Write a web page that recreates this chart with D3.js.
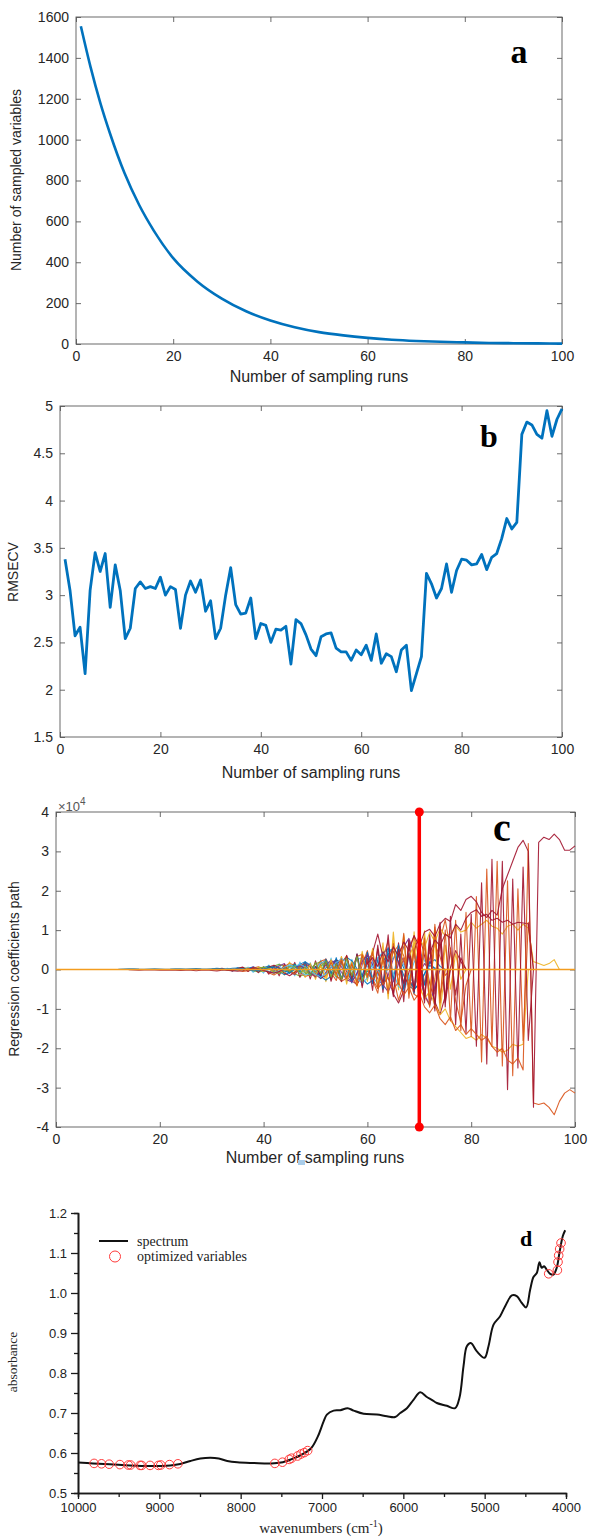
<!DOCTYPE html>
<html>
<head>
<meta charset="utf-8">
<script src="https://d3js.org/d3.v7.min.js"></script>
<style>
  body { margin: 0; background: #fff; }
  svg { display: block; }
</style>
</head>
<body>
<script>
var W = 590, H = 1538;
var sans = "'Liberation Sans', Arial, Helvetica, sans-serif";
var serif = "'Liberation Serif', 'Times New Roman', serif";

// ---------- data ----------
// (a) number of sampled variables, read at selected runs
var runsA = [1, 3, 5, 7, 10, 13, 16, 20, 25, 30, 35, 40, 45, 50, 55, 60, 65, 70, 75, 80, 85, 90, 95, 100];
var sampledVars = [1555, 1355, 1180, 1030, 835, 680, 555, 420, 305, 222, 160, 115, 82, 58, 42, 30, 21, 15, 11, 8, 5, 4, 3, 2];

// (b) RMSECV for runs 1..100
var rmsecv = [3.38, 3.05, 2.57, 2.66, 2.17, 3.05, 3.45, 3.25, 3.44, 2.87,
  3.32, 3.05, 2.54, 2.65, 3.07, 3.14, 3.07, 3.09, 3.07, 3.19,
  3.00, 3.09, 3.06, 2.65, 3.00, 3.15, 3.03, 3.16, 2.83, 2.94,
  2.54, 2.65, 3.00, 3.29, 2.90, 2.80, 2.81, 2.97, 2.54, 2.70,
  2.68, 2.50, 2.64, 2.63, 2.67, 2.27, 2.74, 2.70, 2.58, 2.43,
  2.36, 2.56, 2.59, 2.60, 2.44, 2.40, 2.40, 2.31, 2.42, 2.37,
  2.47, 2.31, 2.59, 2.28, 2.38, 2.35, 2.19, 2.42, 2.47, 1.99,
  2.17, 2.35, 3.23, 3.12, 2.97, 3.07, 3.33, 3.03, 3.26, 3.38,
  3.37, 3.32, 3.33, 3.43, 3.27, 3.40, 3.44, 3.60, 3.81, 3.70,
  3.77, 4.70, 4.83, 4.80, 4.70, 4.66, 4.95, 4.68, 4.86, 4.97];

// (c) regression coefficient paths, in thousands; path i starts at run coefStart[i]
var coefStart = [30, 32, 35, 33, 30, 34, 36, 38, 40, 42, 38, 40, 12, 14,
  44, 46, 48, 45, 50, 52, 44,
  70, 68, 66, 66, 72, 60, 60];
var coefValues = [
  [0.1,0.2,0.1,-0.1,-0.3,-0.2,0.2,0.4,0.6,0.3,-0.2,-0.6,-0.9,-0.4,0.3,0.9,1.2,0.6,-0.3,-1.1,
   -1.6,-0.9,0.4,1.5,2.2,1.4,0.2,-1.3,-2.6,-1.8,-0.5,1.3,2.9,4.2,5.3,4.6,2.1,-1.5,-4.2,-5.1,
   -3.5,-1.0,1.8,2.5,0.8,0],
  [-0.2,0.3,-0.4,0.5,-0.3,0.6,-0.7,0.4,-0.9,1.1,-0.6,1.4,-1.2,0.8,-1.6,1.9,-1.0,1.7,
   -2.1,2.4,-1.3,2.9,-2.2,1.8,-3.0,2.6,-1.7,3.2,-2.5,2.0,-1.5,0.8,0],
  [0.3,0.5,0.2,-0.3,-0.6,-0.4,0.2,0.9,1.3,0.8,-0.2,-1.1,-1.7,-1.2,0.1,
   1.4,2.0,1.1,-0.5,-1.8,-2.3,-1.0,0.6,0],
  [0.1,-0.3,0.2,0.5,-0.4,0.7,-0.2,0.6,-1.0,-0.3,0.9,1.5,-0.7,-1.3,0.4,1.8,0.9,
   -1.2,-2.3,-0.8,1.6,2.5,0.7,-1.9,-3.1,-0.9,2.3,3.6,1.2,-2.4,-4.0,-1.5,2.8,4.9,2.0,-2.6,-4.4,
   -1.0,1.5,0],
  [-0.2,0.1,0.3,-0.2,-0.4,0.3,0.6,-0.5,0.4,-0.8,0.7,-1.2,0.9,-1.6,1.3,-0.9,1.8,-2.0,1.5,-2.4,
   2.2,-1.8,2.7,-3.0,1.9,-2.6,3.4,-2.9,3.8,-4.1,4.5,-3.2,5.2,-5.8,4.0,-6.5,6.8,-5.0,7.5,-6.0,
   8.2,-7.3,9.0,-6.2,7.0,-8.0,5.5,-6.5,3.0,0],
  [0.2,-0.1,-0.5,-0.3,0.4,0.7,0.2,-0.8,-1.4,-0.6,0.7,1.6,1.0,-0.5,-1.8,-1.3,
   0.4,2.1,2.6,0.9,-1.5,-3.0,-2.2,0.5,3.3,3.9,1.6,-2.5,-4.8,-3.2,0.7,4.4,6.1,3.5,-1.8,-6.3,
   -7.2,-3.0,2.8,6.4,3.2,-1.5,0],
  [-0.3,0.4,-0.2,0.6,-0.5,0.8,-1.1,0.6,-1.4,1.9,-0.8,1.2,-2.0,1.6,
   -2.5,1.4,-3.1,2.3,-1.6,3.3,-3.7,2.0,-4.2,4.6,-3.0,5.4,-4.6,6.8,-7.5,9.5,-5.2,8.8,-6.1,9.6,
   -6.6,8.4,-7.8,10.2,-9.0,6.2,-5.0,4.0,-2.5,0],
  [0.3,-0.4,0.5,0.9,0.3,-0.6,-1.3,-0.8,0.4,1.3,2.0,1.1,
   -0.4,-1.8,-2.7,-1.7,0.3,2.0,3.1,2.2,0.2,-2.3,-3.7,-2.8,-0.6,2.1,3.9,5.6,3.3,0.4,-2.8,-4.9,
   -3.8,-1.2,1.0,0.4,0],
  [-0.3,0.6,1.1,0.4,-0.9,-1.6,-0.7,0.8,1.5,0.6,-1.0,-2.2,-1.5,0.6,2.4,1.9,-0.5,-2.9,-3.8,-1.5,
   1.6,4.3,9.0,3.2,-2.2,-6.2,-8.5,-5.4,-0.8,4.7,8.8,3.5,-3.5,-8.2,-11.4,-6.8,0.5,4.8,2.0,0],
  [0.4,-0.7,1.0,-0.4,-1.2,0.9,1.6,-1.0,-1.9,1.4,2.4,-0.8,-2.8,1.6,3.5,-1.7,-4.1,1.2,
   4.8,-2.6,-6.0,3.1,7.2,-1.9,-7.8,-3.5,5.3,8.6,2.3,-6.6,-9.2,-2.4,7.5,12.6,5.0,-8.0,-13.4,-4.0,0],
  [-0.2,0.3,0.6,0.2,-0.5,-1.0,-0.4,0.7,1.3,0.5,-0.8,-1.5,-0.6,0.9,1.8,1.0,-0.3,0],
  [0.2,-0.5,-0.9,-0.3,0.6,1.2,0.8,-0.4,-1.4,-1.1,0.3,1.6,2.2,1.0,-0.8,-2.1,-1.3,0.7,2.6,2.9,
   0.8,-1.9,-3.6,-2.4,0.5,3.1,3.8,1.2,-2.0,-3.4,-1.5,0],
  [0.05,0.1,0.15,0.2,0.1,0.05,0.1,0.15,0.1,0.05,0.1,0.2,0.15,0.1,0.2,0.25,0.15,0.1,0.2,0.3,
   0.2,0.1,0.3,0.4,0.2,0.0,-0.3,-0.2,0.1,0.5,0.7,0.3,-0.4,-0.8,0],
  [-0.05,-0.1,-0.15,-0.1,-0.05,-0.1,-0.2,-0.15,-0.1,-0.2,-0.25,-0.15,-0.2,-0.3,-0.2,-0.1,
   -0.25,-0.35,-0.2,-0.1,-0.3,-0.45,-0.3,0.1,0.4,0.2,-0.3,-0.6,-0.9,-0.5,0.2,0],
  [0.5,-0.9,1.4,-0.6,1.9,-1.5,0.8,-2.2,2.6,-1.2,3.0,-2.4,1.5,-3.4,3.9,-2.0,4.4,-3.6,2.6,-5.0,
   5.6,-3.0,6.3,-5.2,4.2,-6.0,3.5,-4.0,2.0,0],
  [0.4,1.0,0.3,-0.9,-1.7,-0.6,1.1,2.3,1.4,-0.7,-2.6,-3.2,-1.0,1.9,3.7,2.4,-0.8,-3.9,-5.6,-3.0,
   1.5,5.8,7.9,4.1,-1.6,-6.4,-8.8,-4.2,0],
  [-0.6,1.2,-1.5,0.9,-2.1,2.5,-1.4,3.2,-2.8,1.9,-3.6,4.1,-2.2,5.0,-4.4,3.1,-6.2,7.5,-4.5,8.3,
   -5.8,6.9,-8.6,9.8,-7.0,8.0,-10.5,0],
  [0.3,0.8,1.3,0.7,-0.4,-1.2,-2.0,-1.1,0.5,1.7,2.8,1.9,-0.3,-2.4,-3.5,-2.1,0.6,3.0,4.4,2.5,
   -0.9,-4.3,-5.4,-2.0,1.8,4.6,2.2,0],
  [0.8,-1.5,2.0,-2.6,1.4,-3.1,3.6,-2.2,4.0,-4.6,2.9,-5.3,6.2,-4.0,8.8,-6.9,5.1,-8.2,7.4,-5.6,
   9.1,-7.7,6.3,-9.8,11.0,-8.4,0],
  [-0.9,1.8,-1.2,2.7,-2.3,1.5,-3.4,3.8,-2.0,4.5,-4.9,3.2,-6.1,6.6,-3.8,9.2,-7.3,5.5,-8.9,7.0,
   -9.6,10.8,-6.5,0],
  [0.4,-0.6,0.9,-1.1,0.7,-1.5,1.8,-1.0,2.2,-1.9,1.4,-2.6,2.9,-1.6,3.3,-3.0,0],
  [-4.0,-7.5,-5.5,-9.0,-11.5,-10.0,-13.0,-14.5,-16.0,-17.5,
   -17.0,-18.0,-16.5,-17.5,-19.5,-20.0,-21.0,-20.5,-19.0,-19.5,-19.0,0],
  [3.0,6.5,8.0,5.5,9.5,7.0,10.5,8.5,9.0,11.0,9.5,10.0,
   12.0,10.5,11.5,12.5,11.0,10.5,9.0,11.0,11.5,10.0,11.5,10.5,2.0,1.5,1.0,1.5,2.5,0],
  [-1.5,3.0,-4.5,5.0,-6.5,8.0,-9.0,11.5,-8.5,10.0,-13.0,12.5,-15.5,14.5,
   -17.0,18.5,-23.5,25.5,-19.5,27.5,-24.5,22.5,-27.0,20.5,-18.0,12.0,0],
  [2.0,-3.5,4.0,-5.5,6.0,-8.5,7.5,-10.5,12.0,-9.5,13.5,-14.0,9.0,-16.0,
   14.0,-19.5,22.0,-24.0,28.0,-22.0,27.5,-30.5,23.0,-25.0,26.0,-18.0,0],
  [4.0,7.5,6.0,9.0,8.0,11.5,10.0,13.0,14.5,15.2,13.5,14.0,12.5,13.0,12.0,12.5,11.5,12.0,11.8,11.6,0],
  [-1.0,-2.5,-0.5,-3.8,-2.0,-5.0,-3.2,-6.5,-4.5,-7.8,-6.0,-9.5,-11.0,-9.0,-12.5,-14.0,-12.0,-15.5,-14.0,-16.5,
   -15.0,-16.5,-18.0,-17.0,-19.5,-21.0,-20.0,-23.0,-24.0,-22.5,-25.5,32.0,-33.9,-34.3,-33.9,-35.0,-36.9,-33.5,-31.4,-30.5,
   -31.4],
  [1.5,3.0,0.8,4.5,2.0,5.8,3.5,7.0,4.8,8.6,6.0,9.5,10.2,8.4,11.6,13.0,12.2,16.5,15.0,17.8,
   18.6,17.2,14.5,13.2,15.0,13.8,20.5,24.0,27.5,31.0,32.8,30.0,-35.0,32.3,33.6,33.0,34.4,33.0,30.3,30.3,
   31.4]
];
var selectedRun = 70;

// (d) NIR spectrum and the optimized variables
var spectrumWn = [10000, 9815, 9608, 9361, 9113, 8866, 8743, 8619, 8495, 8372, 8269, 8165, 8041, 7835, 7629, 7505,
  7381, 7258, 7134, 7052, 6980, 6940, 6857, 6775, 6685, 6611, 6488, 6325, 6202, 6100, 6038, 5956, 5875,
  5793, 5711, 5650, 5588, 5465, 5363, 5310, 5260, 5219, 5170, 5096, 5002, 4953, 4891, 4810, 4748, 4666,
  4605, 4543, 4490, 4441, 4400, 4359, 4326, 4298, 4269, 4236, 4195, 4155, 4114, 4081, 4040, 4010];
var spectrumAbs = [0.576, 0.574, 0.572, 0.569, 0.5675, 0.569, 0.5725, 0.580, 0.586, 0.588, 0.586, 0.580, 0.5767, 0.575, 0.574, 0.576,
  0.584, 0.595, 0.612, 0.641, 0.679, 0.696, 0.706, 0.707, 0.712, 0.706, 0.698, 0.696, 0.692, 0.690, 0.700, 0.712, 0.733,
  0.752, 0.740, 0.733, 0.725, 0.718, 0.712, 0.738, 0.817, 0.867, 0.875, 0.854, 0.838, 0.867, 0.921, 0.942, 0.967, 0.994,
  0.992, 0.975, 0.964, 1.008, 1.040, 1.050, 1.077, 1.063, 1.067, 1.058, 1.048, 1.046, 1.063, 1.100, 1.142, 1.157];
var optWn = [9802, 9711, 9617, 9485, 9382, 9353, 9237, 9217, 9114, 9011, 8982, 8875, 8772,
  7580, 7486, 7403, 7374, 7300, 7259, 7218, 7176,
  4213, 4106, 4098, 4090, 4078, 4061];
var optAbs = [0.574, 0.573, 0.572, 0.571, 0.570, 0.570, 0.569, 0.569, 0.569, 0.569, 0.570, 0.571, 0.573,
  0.574, 0.577, 0.584, 0.587, 0.5925, 0.5975, 0.601, 0.606,
  1.048, 1.057, 1.0775, 1.094, 1.11, 1.125];

// ---------- drawing ----------
var svg = d3.select("body").append("svg").attr("width", W).attr("height", H);
svg.append("rect").attr("width", W).attr("height", H).attr("fill", "#fff");

var boxColor = "#5a5a5a";
var textColor = "#262626";

function matlabAxes(g, x, y, xt, yt, yfmt) {
  var x0 = x.range()[0], x1 = x.range()[1], y0 = y.range()[0], y1 = y.range()[1];
  g.append("g").attr("transform", "translate(0," + y0 + ")")
    .call(d3.axisBottom(x).tickValues(xt).tickSize(-5).tickPadding(7).tickFormat(function(d) { return String(d); }));
  g.append("g").attr("transform", "translate(0," + y1 + ")")
    .call(d3.axisTop(x).tickValues(xt).tickSize(-5).tickFormat(""));
  g.append("g").attr("transform", "translate(" + x0 + ",0)")
    .call(d3.axisLeft(y).tickValues(yt).tickSize(-5).tickPadding(7).tickFormat(yfmt));
  g.append("g").attr("transform", "translate(" + x1 + ",0)")
    .call(d3.axisRight(y).tickValues(yt).tickSize(-5).tickFormat(""));
  g.selectAll(".domain").remove();
  g.selectAll(".tick line").attr("stroke", boxColor).attr("stroke-width", 0.9);
  g.selectAll(".tick text").attr("fill", textColor)
    .style("font-family", sans).style("font-size", "14px");
  g.append("rect").attr("x", x0).attr("y", y1).attr("width", x1 - x0).attr("height", y0 - y1)
    .attr("fill", "none").attr("stroke", boxColor).attr("stroke-width", 0.9);
}

function yTitle(g, txt, x, y, font, size) {
  g.append("text").attr("transform", "translate(" + x + "," + y + ") rotate(-90)")
    .attr("text-anchor", "middle").attr("fill", textColor)
    .style("font-family", font).style("font-size", size + "px").text(txt);
}
function xTitle(g, txt, x, y, font, size) {
  return g.append("text").attr("x", x).attr("y", y).attr("text-anchor", "middle").attr("fill", textColor)
    .style("font-family", font).style("font-size", size + "px").text(txt);
}
function panelLetter(txt, x, y, size) {
  svg.append("text").attr("x", x).attr("y", y).attr("text-anchor", "middle")
    .style("font-family", serif).style("font-weight", "bold").style("font-size", size + "px")
    .attr("fill", "#000").text(txt);
}

// ----- panel a -----
var gA = svg.append("g");
var xA = d3.scaleLinear().domain([0, 100]).range([76, 562]);
var yA = d3.scaleLinear().domain([0, 1600]).range([344, 17]);
matlabAxes(gA, xA, yA, d3.range(0, 101, 20), d3.range(0, 1601, 200), function(d) { return String(d); });
gA.append("path").datum(runsA.map(function(r, i) { return [r, sampledVars[i]]; }))
  .attr("fill", "none").attr("stroke", "#0072BD").attr("stroke-width", 2.6)
  .attr("d", d3.line().x(function(d) { return xA(d[0]); }).y(function(d) { return yA(d[1]); }).curve(d3.curveMonotoneX));
yTitle(gA, "Number of sampled variables", 21, 180, sans, 14);
xTitle(gA, "Number of sampling runs", 319, 382, sans, 16);
panelLetter("a", 519, 63, 34);

// ----- panel b -----
var gB = svg.append("g");
var xB = d3.scaleLinear().domain([0, 100]).range([60, 562]);
var yB = d3.scaleLinear().domain([1.5, 5]).range([737, 406]);
matlabAxes(gB, xB, yB, d3.range(0, 101, 20), [1.5, 2, 2.5, 3, 3.5, 4, 4.5, 5], function(d) { return String(d); });
gB.append("path").datum(rmsecv)
  .attr("fill", "none").attr("stroke", "#0072BD").attr("stroke-width", 2.8).attr("stroke-linejoin", "round")
  .attr("d", d3.line().x(function(d, i) { return xB(i + 1); }).y(function(d) { return yB(d); }));
yTitle(gB, "RMSECV", 18, 572, sans, 14);
xTitle(gB, "Number of sampling runs", 311, 778, sans, 16);
panelLetter("b", 489, 447, 32);

// ----- panel c -----
var gC = svg.append("g");
var xC = d3.scaleLinear().domain([0, 100]).range([56, 575]);
var yC = d3.scaleLinear().domain([-40000, 40000]).range([1127, 812]);
matlabAxes(gC, xC, yC, d3.range(0, 101, 20), d3.range(-40000, 40001, 10000), function(d) { return String(d / 10000); });
var mColors = { blue: "#0072BD", orange: "#D95319", yellow: "#EDB120", purple: "#7E2F8E",
  green: "#77AC30", cyan: "#4DBEEE", darkred: "#A2142F" };
var coefColors = [mColors.blue, mColors.cyan, mColors.green, mColors.purple, mColors.darkred, mColors.orange,
  mColors.yellow, mColors.blue, mColors.darkred, mColors.orange, mColors.green, mColors.cyan, mColors.blue,
  mColors.darkred,
  mColors.blue, mColors.purple, mColors.yellow, mColors.cyan, mColors.darkred, mColors.orange, mColors.green,
  mColors.yellow, mColors.yellow, mColors.orange, mColors.darkred, mColors.darkred,
  mColors.orange, mColors.darkred];
var lineC = d3.line().x(function(d) { return xC(d[0]); }).y(function(d) { return yC(d[1]); });
coefValues.forEach(function(vals, i) {
  var pts = vals.map(function(v, j) { return [coefStart[i] + j, v * 1000]; });
  gC.append("path").datum(pts).attr("fill", "none").attr("stroke", coefColors[i])
    .attr("stroke-width", 1.1).attr("stroke-opacity", 0.9).attr("stroke-linejoin", "round").attr("d", lineC);
});
// eliminated coefficients sit on zero
gC.append("path").datum([[0, 0], [100, 0]]).attr("fill", "none").attr("stroke", "#F39C1E")
  .attr("stroke-width", 1.4).attr("d", lineC);
// optimal run marker
gC.append("line").attr("x1", xC(selectedRun)).attr("x2", xC(selectedRun))
  .attr("y1", yC(40000)).attr("y2", yC(-40000)).attr("stroke", "#FF0000").attr("stroke-width", 3.5);
gC.selectAll("circle.m").data([40000, -40000]).enter().append("circle")
  .attr("cx", xC(selectedRun)).attr("cy", function(d) { return yC(d); }).attr("r", 4.5).attr("fill", "#FF0000");
var mult = gC.append("text").attr("x", 58).attr("y", 811).attr("fill", "#555")
  .style("font-family", sans).style("font-size", "13px");
mult.append("tspan").text("\u00d710");
mult.append("tspan").attr("dy", -6).style("font-size", "10px").text("4");
yTitle(gC, "Regression coefficients path", 19, 969, sans, 14);
xTitle(gC, "Number of sampling runs", 315, 1163, sans, 16);
gC.append("rect").attr("x", 298).attr("y", 1160).attr("width", 7).attr("height", 5).attr("fill", "#a9cdea");
panelLetter("c", 502, 841, 40);

// ----- panel d -----
var gD = svg.append("g");
var xD = d3.scaleLinear().domain([10000, 4000]).range([78, 566]);
var yD = d3.scaleLinear().domain([0.5, 1.2]).range([1493, 1213]);
var axD = "#1a1a1a";
gD.append("g").attr("transform", "translate(0,1493)")
  .call(d3.axisBottom(xD).tickValues(d3.range(9500, 4000, -1000)).tickSize(4).tickFormat(""));
gD.append("g").attr("transform", "translate(0,1493)")
  .call(d3.axisBottom(xD).tickValues(d3.range(10000, 3999, -1000)).tickSize(6).tickSizeOuter(0).tickPadding(4)
    .tickFormat(function(d) { return String(d); }));
gD.append("g").attr("transform", "translate(78,0)")
  .call(d3.axisLeft(yD).tickValues([0.55, 0.65, 0.75, 0.85, 0.95, 1.05, 1.15]).tickSize(4).tickFormat(""));
gD.append("g").attr("transform", "translate(78,0)")
  .call(d3.axisLeft(yD).tickValues([0.5, 0.6, 0.7, 0.8, 0.9, 1.0, 1.1, 1.2]).tickSize(7).tickSizeOuter(0).tickPadding(4)
    .tickFormat(d3.format(".1f")));
gD.selectAll(".domain").attr("stroke", axD).attr("stroke-width", 1.6);
gD.selectAll(".tick line").attr("stroke", axD).attr("stroke-width", 1.3);
gD.selectAll(".tick text").attr("fill", "#222").style("font-family", sans).style("font-size", "13px");

gD.append("path").datum(spectrumWn.map(function(w, i) { return [w, spectrumAbs[i]]; }))
  .attr("fill", "none").attr("stroke", "#111").attr("stroke-width", 2)
  .attr("d", d3.line().x(function(d) { return xD(d[0]); }).y(function(d) { return yD(d[1]); }).curve(d3.curveCatmullRom));
gD.selectAll("circle.opt").data(optWn.map(function(w, i) { return [w, optAbs[i]]; })).enter().append("circle")
  .attr("cx", function(d) { return xD(d[0]); }).attr("cy", function(d) { return yD(d[1]); })
  .attr("r", 4.3).attr("fill", "none").attr("stroke", "#ff3a3a").attr("stroke-width", 1);

// legend
gD.append("line").attr("x1", 99).attr("x2", 128).attr("y1", 1241).attr("y2", 1241)
  .attr("stroke", "#111").attr("stroke-width", 2);
gD.append("circle").attr("cx", 115).attr("cy", 1256.5).attr("r", 5.5)
  .attr("fill", "none").attr("stroke", "#ff3a3a").attr("stroke-width", 1);
gD.append("text").attr("x", 137).attr("y", 1246).attr("fill", "#222")
  .style("font-family", serif).style("font-size", "14px").text("spectrum");
gD.append("text").attr("x", 137).attr("y", 1261).attr("fill", "#222")
  .style("font-family", serif).style("font-size", "14px").text("optimized variables");

yTitle(gD, "absorbance", 17, 1362, serif, 13.5);
var wl = xTitle(gD, "wavenumbers (cm", 321, 1533, serif, 15).text(null);
wl.append("tspan").text("wavenumbers (cm");
wl.append("tspan").attr("dy", -6).style("font-size", "10px").text("-1");
wl.append("tspan").attr("dy", 6).text(")");
panelLetter("d", 526, 1246, 22);
</script>
</body>
</html>
